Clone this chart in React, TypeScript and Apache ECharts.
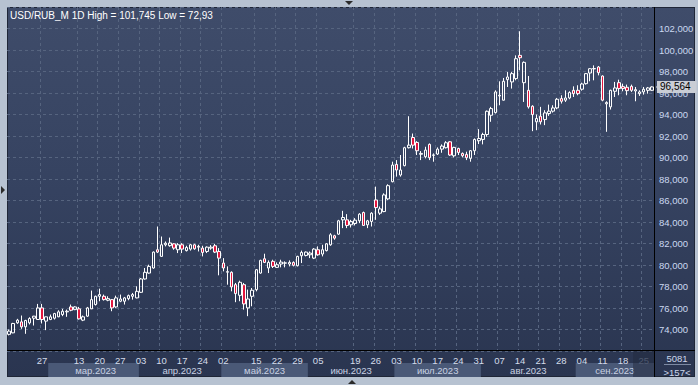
import React, { useEffect, useRef } from 'react';
import * as echarts from 'echarts';

const TITLE = 'USD/RUB_M 1D High = 101,745 Low = 72,93';
const START_DATE = '2023-02-13';
const HOLIDAYS = ['2023-02-23', '2023-02-24', '2023-03-08', '2023-05-01', '2023-05-09', '2023-06-12'];

const OPEN = [
  73.55, 73.69, 74.62, 74.71, 74.25, 74.62, 75.05, 74.93, 76.01, 74.78,
  74.93, 75.05, 75.18, 75.39, 75.64, 76.10, 75.85, 75.92, 74.87, 75.24,
  75.92, 76.32, 77.09, 77.09, 76.72, 76.78, 76.10, 76.63, 76.63, 76.87,
  77.09, 76.94, 77.46, 78.70, 79.25, 79.72, 81.42, 80.80, 81.88, 81.80,
  81.97, 81.42, 81.88, 81.34, 81.48, 81.88, 81.66, 81.57, 81.26, 81.57,
  81.79, 81.26, 80.18, 79.33, 79.32, 78.17, 77.18, 78.17, 76.01, 77.09,
  77.71, 79.25, 80.58, 79.72, 80.34, 79.78, 80.09, 80.17, 80.09, 80.24,
  79.93, 80.86, 80.89, 80.95, 80.64, 81.42, 81.02, 81.34, 81.88, 82.72,
  82.87, 84.20, 84.20, 83.74, 83.86, 84.11, 84.88, 83.74, 84.05, 86.05,
  84.82, 84.97, 86.15, 87.75, 89.36, 88.37, 89.24, 90.91, 91.86, 91.40,
  90.30, 90.07, 91.22, 90.20, 90.32, 90.78, 90.91, 91.46, 90.16, 90.84,
  90.38, 90.29, 89.92, 90.63, 91.56, 91.68, 92.14, 93.93, 94.18, 95.72,
  95.33, 97.24, 97.03, 97.34, 99.50, 96.96, 96.25, 94.77, 93.32, 93.84,
  93.53, 94.09, 94.31, 94.61, 95.48, 95.33, 95.54, 96.25, 96.25, 96.35,
  96.87, 97.86, 98.24, 98.42, 97.58, 94.99, 94.71, 96.16, 96.96, 96.59,
  96.53, 96.62, 96.19, 95.94, 96.10, 96.25, 96.25,
];
const HIGH = [
  74.00, 74.62, 74.99, 75.30, 74.90, 75.14, 75.27, 76.38, 76.38, 75.20,
  75.39, 75.55, 75.79, 75.92, 75.85, 76.32, 76.16, 76.10, 75.30, 76.10,
  77.62, 77.15, 77.80, 77.25, 77.09, 76.84, 77.15, 77.25, 77.03, 77.25,
  77.40, 78.02, 78.79, 79.72, 80.03, 81.26, 83.58, 82.65, 82.19, 82.55,
  82.03, 82.03, 82.03, 81.79, 81.97, 81.97, 81.88, 81.79, 81.73, 81.85,
  81.97, 81.57, 80.64, 79.87, 79.41, 78.33, 78.54, 78.33, 77.71, 77.86,
  79.62, 80.49, 81.05, 80.43, 80.49, 80.24, 80.49, 80.34, 80.43, 80.34,
  80.86, 81.34, 81.26, 81.26, 81.57, 81.73, 81.88, 82.03, 82.96, 82.81,
  84.20, 85.04, 84.73, 84.20, 84.36, 84.82, 84.97, 84.20, 84.91, 87.29,
  85.44, 86.67, 87.51, 89.61, 89.76, 90.23, 91.00, 93.84, 92.23, 91.52,
  90.60, 91.00, 91.31, 90.38, 90.94, 91.22, 91.52, 91.52, 91.00, 90.91,
  90.47, 90.54, 90.69, 91.77, 92.64, 92.30, 94.37, 94.71, 96.25, 97.09,
  97.40, 97.95, 97.95, 99.50, 101.745, 98.94, 97.58, 94.86, 94.00, 94.71,
  94.40, 94.92, 94.86, 95.54, 95.79, 96.25, 96.16, 96.62, 96.72, 96.96,
  97.86, 98.32, 98.57, 98.51, 97.64, 95.23, 96.31, 97.03, 97.24, 96.87,
  96.78, 96.78, 96.56, 96.25, 96.56, 96.56, 96.62,
];
const LOW = [
  73.45, 73.65, 74.53, 74.06, 73.60, 74.47, 74.37, 74.90, 74.56, 73.94,
  74.87, 74.93, 75.15, 75.24, 75.18, 75.70, 75.80, 74.93, 74.78, 75.18,
  75.90, 76.23, 76.63, 76.69, 76.63, 75.70, 76.01, 76.54, 76.32, 76.72,
  76.78, 76.90, 77.40, 78.64, 79.19, 79.66, 81.11, 80.80, 81.73, 81.70,
  81.42, 81.11, 81.11, 81.26, 81.34, 81.42, 81.26, 80.80, 81.11, 81.42,
  81.11, 79.04, 79.41, 78.17, 77.55, 76.54, 76.63, 75.85, 75.24, 76.16,
  77.55, 79.19, 80.18, 79.25, 79.72, 79.72, 79.78, 79.78, 79.87, 79.87,
  79.87, 80.18, 80.80, 80.64, 80.55, 80.86, 80.80, 81.26, 81.79, 82.35,
  82.81, 83.43, 83.43, 83.49, 83.68, 83.89, 83.65, 83.43, 83.58, 84.20,
  84.66, 84.91, 86.05, 87.69, 88.22, 88.22, 89.18, 90.84, 90.84, 90.23,
  89.76, 89.92, 89.76, 89.61, 90.23, 90.44, 90.84, 90.16, 90.01, 90.23,
  90.01, 89.76, 89.61, 90.23, 91.25, 91.22, 91.93, 93.32, 94.09, 94.86,
  95.30, 96.56, 96.41, 97.18, 98.11, 95.17, 94.55, 92.45, 92.54, 93.07,
  93.01, 93.87, 94.18, 94.49, 95.02, 95.17, 95.42, 95.63, 95.79, 96.22,
  96.78, 97.09, 97.18, 97.64, 95.23, 92.39, 94.46, 95.63, 95.79, 96.16,
  95.79, 96.10, 95.23, 95.73, 95.85, 95.94, 96.19,
];
const CLOSE = [
  73.85, 74.56, 74.87, 74.25, 74.84, 75.02, 75.24, 76.01, 74.93, 75.18,
  75.18, 75.48, 75.64, 75.70, 75.70, 75.79, 76.10, 74.99, 75.18, 76.01,
  76.78, 77.09, 77.25, 76.78, 76.87, 76.01, 76.94, 76.84, 76.94, 77.15,
  77.25, 77.55, 78.70, 79.32, 79.87, 81.20, 81.20, 81.88, 82.03, 82.05,
  81.57, 81.88, 81.48, 81.63, 81.88, 81.51, 81.73, 81.17, 81.66, 81.66,
  81.20, 80.64, 79.72, 79.38, 77.96, 77.34, 78.39, 76.38, 76.84, 77.65,
  79.56, 80.43, 80.24, 80.24, 79.87, 80.03, 80.27, 80.20, 80.24, 79.97,
  80.80, 81.17, 81.20, 81.11, 81.48, 80.95, 81.42, 81.97, 82.81, 82.50,
  84.11, 84.42, 83.68, 84.05, 84.17, 84.73, 83.68, 84.11, 84.82, 85.34,
  85.22, 86.52, 87.38, 89.30, 88.84, 88.84, 90.91, 91.15, 91.15, 90.63,
  90.38, 90.69, 89.98, 90.24, 90.78, 91.06, 91.37, 90.23, 90.94, 90.47,
  90.16, 89.98, 90.63, 91.68, 91.77, 92.14, 94.30, 94.55, 96.10, 95.79,
  97.09, 97.49, 97.80, 99.19, 99.28, 98.85, 94.71, 93.99, 93.63, 93.32,
  94.15, 94.31, 94.61, 95.42, 95.23, 95.54, 96.04, 95.94, 95.94, 96.84,
  97.80, 98.26, 98.28, 97.89, 95.33, 95.11, 96.25, 96.47, 96.41, 96.41,
  96.22, 96.25, 96.31, 96.10, 96.35, 96.47, 96.564,
];

const Y_MIN = 72;
const Y_MAX = 104;
const Y_STEP = 2;

const WEEK_LABELS = [
  '2023-02-27', '2023-03-13', '2023-03-20', '2023-03-27', '2023-04-03', '2023-04-10',
  '2023-04-17', '2023-04-24', '2023-05-02', '2023-05-15', '2023-05-22', '2023-05-29',
  '2023-06-05', '2023-06-19', '2023-06-26', '2023-07-03', '2023-07-10', '2023-07-17',
  '2023-07-24', '2023-07-31', '2023-08-07', '2023-08-14', '2023-08-21', '2023-08-28',
  '2023-09-04', '2023-09-11', '2023-09-18', '2023-09-25',
];
const DIM_WEEK = '2023-09-25';
const MONTH_LABELS: [string, string][] = [
  ['2023-03', 'мар.2023'], ['2023-04', 'апр.2023'], ['2023-05', 'май.2023'],
  ['2023-06', 'июн.2023'], ['2023-07', 'июл.2023'], ['2023-08', 'авг.2023'],
  ['2023-09', 'сен.2023'],
];
const LAST_PRICE_LABEL = '96,564';
const VOLUME_TEXT = '5081';
const COUNT_TEXT = '>157<';

const FONT = '"Liberation Sans", Arial, sans-serif';

function buildDates(n: number): string[] {
  const out: string[] = [];
  const d = new Date(START_DATE + 'T00:00:00Z');
  while (out.length < n) {
    const dow = d.getUTCDay();
    const s = d.toISOString().slice(0, 10);
    if (dow !== 0 && dow !== 6 && HOLIDAYS.indexOf(s) < 0) out.push(s);
    d.setUTCDate(d.getUTCDate() + 1);
  }
  return out;
}

const GRID_LEFT = 7;
const GRID_RIGHT = 44;
const GRID_TOP = 7;
const GRID_BOTTOM = 34;
const W = 698;
const H = 385;

export default function App() {
  const ref = useRef<HTMLDivElement>(null);
  useEffect(() => {
    if (!ref.current) return;
    const chart = echarts.init(ref.current, undefined, { renderer: 'svg', width: W, height: H });
    const dates = buildDates(CLOSE.length);
    const weekSet = new Set(WEEK_LABELS);
    const weekFn = (_i: number, v: string) => weekSet.has(v);

    const ranges: Record<string, [number, number]> = {};
    dates.forEach((d, i) => {
      const k = d.slice(0, 7);
      if (!ranges[k]) ranges[k] = [i, i];
      else ranges[k][1] = i;
    });
    const monthMid = new Map<number, string>();
    MONTH_LABELS.forEach(([k, lbl]) => {
      const r = ranges[k];
      if (r) monthMid.set(Math.ceil((r[0] + r[1]) / 2), lbl);
    });
    const monthStart = new Set<number>(Object.keys(ranges).map((k) => ranges[k][0]));
    const monthLabelFn = (i: number) => monthMid.has(i);
    const monthStartFn = (i: number) => i === 0 || monthStart.has(i);

    const gridLine = { show: true, lineStyle: { color: '#56647f', type: [3, 3] as any, width: 1 } };
    const plotBottom = H - GRID_BOTTOM;
    const plotRight = W - GRID_RIGHT;

    const baseGraphic: any[] = [
      { id: 'hline', type: 'line', z: 100, shape: { x1: 7, y1: plotBottom - 0.5, x2: 695, y2: plotBottom - 0.5 }, style: { stroke: '#000', lineWidth: 1 } },
      { id: 'vline', type: 'line', z: 100, shape: { x1: plotRight + 0.5, y1: 7, x2: plotRight + 0.5, y2: 377 }, style: { stroke: '#000', lineWidth: 1 } },
      { id: 'dim', type: 'rect', z: 90, shape: { x: 633, y: plotBottom, width: plotRight - 633, height: 377 - plotBottom }, style: { fill: 'rgba(34,42,62,0.5)' } },
      { id: 'vol', type: 'text', z: 100, x: 677, y: 358, style: { text: VOLUME_TEXT, fill: '#cdd8ec', font: `9.5px ${FONT}`, align: 'center', verticalAlign: 'middle' } },
      { id: 'sep', type: 'line', z: 100, shape: { x1: 664, y1: 364.5, x2: 691, y2: 364.5 }, style: { stroke: '#7d8aa3', lineWidth: 1 } },
      { id: 'cnt', type: 'text', z: 100, x: 677, y: 372, style: { text: COUNT_TEXT, fill: '#cdd8ec', font: `9.5px ${FONT}`, align: 'center', verticalAlign: 'middle' } },
      { id: 'triTop', type: 'polygon', z: 100, shape: { points: [[345, 1], [353, 1], [349, 5]] }, style: { fill: '#2b2b2b' } },
      { id: 'triLeft', type: 'polygon', z: 100, shape: { points: [[1, 186], [1, 194], [5, 190]] }, style: { fill: '#2b2b2b' } },
      { id: 'triBot', type: 'polygon', z: 100, shape: { points: [[348, 384], [356, 384], [352, 380]] }, style: { fill: '#2b2b2b' } },
    ];

    const last = CLOSE.length - 1;
    chart.setOption({
      animation: false,
      title: {
        text: TITLE, left: 10, top: 10, padding: 0,
        textStyle: { color: '#ffffff', fontSize: 10, fontWeight: 'normal', fontFamily: FONT },
      },
      grid: [
        { left: GRID_LEFT, right: GRID_RIGHT, top: GRID_TOP, bottom: GRID_BOTTOM },
        { left: GRID_LEFT, right: GRID_RIGHT, top: 363, height: 14 },
      ],
      xAxis: [
        {
          type: 'category', gridIndex: 0, data: dates, boundaryGap: true,
          axisLine: { show: false }, axisTick: { show: false },
          axisLabel: {
            interval: weekFn, color: '#d4dcea', fontSize: 9.5, fontFamily: FONT, margin: 4,
            formatter: (v: string) => (v === DIM_WEEK ? `{dim|${v.slice(8, 10)}}` : v.slice(8, 10)),
            rich: { dim: { color: '#7a86a0', fontSize: 9.5, fontFamily: FONT } },
          },
          splitLine: { ...gridLine, interval: weekFn },
        },
        {
          type: 'category', gridIndex: 1, data: dates, boundaryGap: true, position: 'top',
          axisLine: { show: false }, axisTick: { show: false },
          axisLabel: {
            inside: true, margin: 2, interval: monthLabelFn, color: '#c9d2e3', fontSize: 9.5, fontFamily: FONT,
            formatter: (_v: string, i: number) => monthMid.get(i) || '',
          },
          splitLine: { show: false },
          splitArea: { show: true, interval: monthStartFn, areaStyle: { color: ['rgba(0,0,0,0)', '#4a5977'] } },
        },
      ],
      yAxis: [
        {
          type: 'value', gridIndex: 0, position: 'right', min: Y_MIN, max: Y_MAX, interval: Y_STEP,
          axisLine: { show: false }, axisTick: { show: false },
          axisLabel: {
            color: '#cbd8f0', fontSize: 9.5, fontFamily: FONT, margin: 5,
            formatter: (v: number) => (v === Y_MIN || v === Y_MAX ? '' : v.toFixed(3).replace('.', ',')),
          },
          splitLine: gridLine,
        },
        { type: 'value', gridIndex: 1, min: 0, max: 1, show: false },
      ],
      series: [
        {
          type: 'candlestick', xAxisIndex: 0, yAxisIndex: 0, barWidth: 3,
          data: dates.map((_d, i) => [OPEN[i], CLOSE[i], LOW[i], HIGH[i]]),
          itemStyle: {
            color: 'rgba(0,0,0,0)', color0: '#e3163e',
            borderColor: '#ffffff', borderColor0: '#ffffff', borderWidth: 1,
          },
          markLine: {
            silent: true, symbol: 'none', animation: false,
            lineStyle: { color: 'rgba(0,0,0,0)', width: 0 },
            data: [{ yAxis: CLOSE[last] }],
            label: {
              show: true, position: 'end', distance: 3, formatter: LAST_PRICE_LABEL,
              backgroundColor: '#c9cdd5', color: '#000000', fontSize: 10, fontFamily: FONT,
              padding: [1, 6, 1, 3],
            },
          },
        },
      ],
      graphic: baseGraphic,
    });

    const py = chart.convertToPixel({ yAxisIndex: 0 }, CLOSE[last]) as number;
    if (typeof py === 'number' && isFinite(py)) {
      chart.setOption({
        graphic: [
          ...baseGraphic,
          { id: 'tagArrow', type: 'polygon', z: 100, shape: { points: [[plotRight + 2, py], [plotRight + 6, py - 5], [plotRight + 6, py + 5]] }, style: { fill: '#c9cdd5' } },
        ],
      });
    }

    return () => chart.dispose();
  }, []);

  return (
    <div style={{ position: 'fixed', left: 0, top: 0, width: W, height: H, background: '#b7c2d1', overflow: 'hidden' }}>
      <div
        style={{
          position: 'absolute', left: 7, top: 7, width: 688, height: 370, boxSizing: 'border-box',
          border: '1px solid #1f2637',
          background: 'linear-gradient(180deg, #3f4c6a 0%, #354260 50%, #2a3550 100%)',
        }}
      />
      <div ref={ref} style={{ position: 'absolute', left: 0, top: 0, width: W, height: H }} />
    </div>
  );
}
